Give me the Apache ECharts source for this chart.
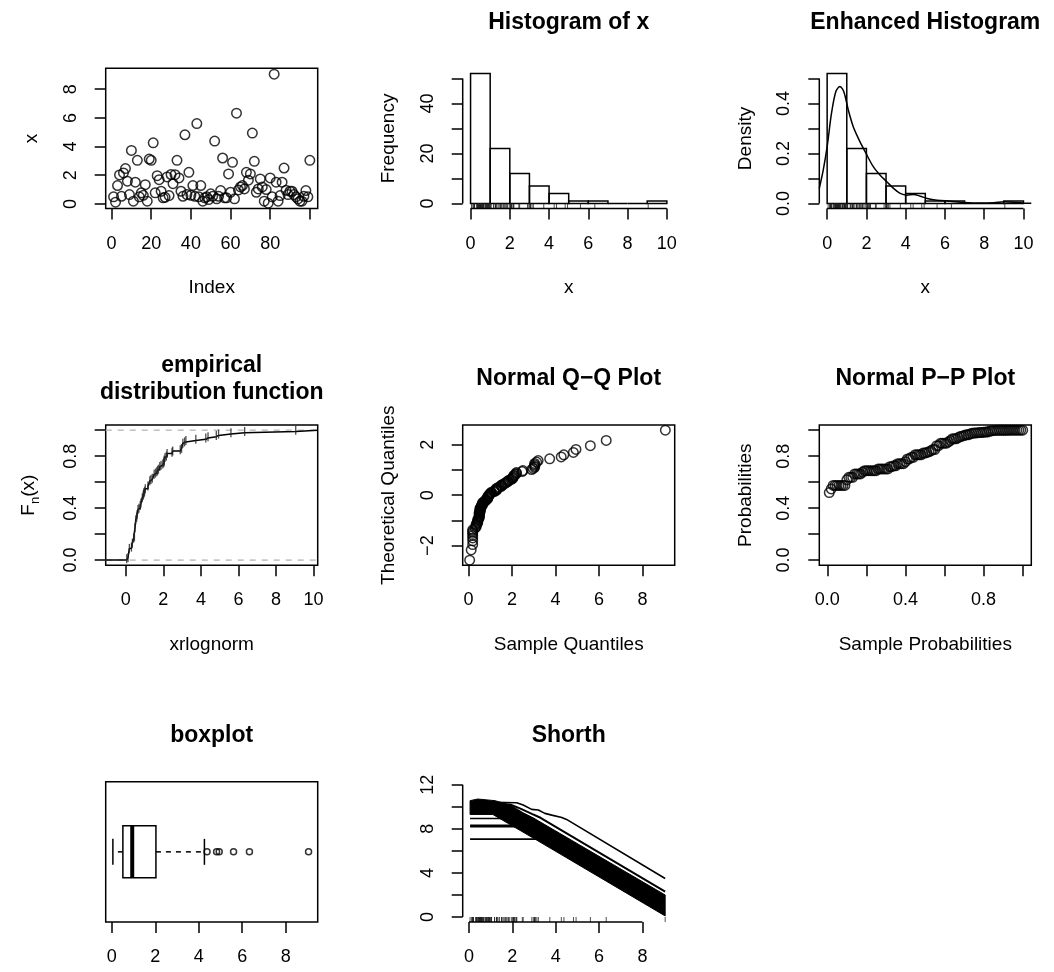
<!DOCTYPE html>
<html><head><meta charset="utf-8">
<script src="https://cdn.jsdelivr.net/npm/echarts@6/dist/echarts.min.js"></script>
<style>html,body{margin:0;padding:0;background:#fff}#c{width:1054px;height:972px}</style>
</head><body><div id="c"></div>
<script>
// ---------------- data ----------------
const indexValues = [
 0.49,0.12,1.28,2.02,0.53,2.16,2.46,1.58,0.65,3.73,
 0.19,1.51,3.04,0.49,0.77,0.60,1.34,0.19,3.13,3.04,
 4.26,0.77,1.97,1.69,0.88,0.42,0.46,1.88,0.58,2.05,
 1.41,2.04,3.04,1.81,0.88,0.53,4.82,0.65,2.20,0.60,
 1.28,0.53,5.60,0.49,1.28,0.19,0.42,0.49,0.30,0.70,
 0.53,4.38,0.35,0.53,0.93,3.20,0.42,0.42,2.09,0.81,
 2.90,0.35,6.33,0.97,1.18,1.28,1.04,2.20,1.65,2.09,
 4.94,2.97,0.81,1.04,1.74,1.18,0.19,1.00,0.05,1.81,
 0.49,9.05,1.51,0.19,0.58,1.51,2.50,0.95,0.65,0.88,
 0.88,0.65,0.49,0.35,0.19,0.19,0.53,0.93,0.49,3.04];
const histBreaks = [0,1,2,3,4,5,6,7,8,9,10];
const histCounts = [52,22,12,7,4,1,1,0,0,1];
const histDensities = [0.52,0.22,0.12,0.07,0.04,0.01,0.01,0,0,0.01];
const densityX = [-0.40,-0.20,0.00,0.22,0.44,0.65,0.85,1.08,1.33,1.67,1.98,2.35,2.70,3.04,3.38,3.72,4.06,4.40,4.74,5.09,5.60,6.28,6.96,7.80,8.50,9.00,9.50,10.00,10.40];
const densityY = [0.060,0.133,0.227,0.360,0.447,0.468,0.447,0.373,0.307,0.247,0.200,0.147,0.113,0.087,0.060,0.040,0.033,0.036,0.029,0.020,0.013,0.009,0.004,0.0015,0.003,0.007,0.005,0.001,0.0005];
const qqTheoretical = [
 -2.576,-2.170,-1.960,-1.812,-1.695,-1.598,-1.514,-1.440,-1.372,-1.311,
 -1.254,-1.200,-1.150,-1.103,-1.058,-1.015,-0.974,-0.935,-0.896,-0.860,
 -0.824,-0.789,-0.755,-0.722,-0.690,-0.659,-0.628,-0.598,-0.568,-0.539,
 -0.510,-0.482,-0.454,-0.426,-0.399,-0.372,-0.345,-0.319,-0.292,-0.266,
 -0.240,-0.215,-0.189,-0.164,-0.138,-0.113,-0.088,-0.063,-0.038,-0.013,
 0.013,0.038,0.063,0.088,0.113,0.138,0.164,0.189,0.215,0.240,
 0.266,0.292,0.319,0.345,0.372,0.399,0.426,0.454,0.482,0.510,
 0.539,0.568,0.598,0.628,0.659,0.690,0.722,0.755,0.789,0.824,
 0.860,0.896,0.935,0.974,1.015,1.058,1.103,1.150,1.200,1.254,
 1.311,1.372,1.440,1.514,1.598,1.695,1.812,1.960,2.170,2.576];
const ppProbabilities = [
 0.520,0.548,0.575,0.575,0.575,0.575,0.575,0.575,0.575,0.618,
 0.637,0.637,0.637,0.663,0.663,0.663,0.663,0.677,0.688,0.688,
 0.688,0.688,0.688,0.688,0.688,0.702,0.702,0.702,0.702,0.702,
 0.702,0.719,0.719,0.726,0.726,0.742,0.742,0.742,0.742,0.758,
 0.779,0.779,0.791,0.791,0.811,0.811,0.811,0.811,0.824,0.824,
 0.829,0.834,0.841,0.851,0.851,0.881,0.881,0.900,0.900,0.900,
 0.900,0.910,0.921,0.934,0.934,0.934,0.943,0.951,0.954,0.959,
 0.965,0.965,0.970,0.976,0.978,0.979,0.980,0.982,0.982,0.985,
 0.986,0.986,0.993,0.994,0.998,0.9985,0.9988,0.9988,0.9988,0.9988,
 0.9991,0.9993,0.9999,1,1,1,1,1,1,1];
const boxFive = [0.05,0.51,0.94,2.03,4.26];
const boxOutliers = [4.38,4.82,4.94,5.60,6.33,9.05];
const shorthTopX = [0.05,2.2,2.5,2.89,3.2,3.5,3.82,4.28,4.5,9.05];
const shorthTopY = [10.45,10.36,10.15,9.76,9.7,9.4,9.24,9.03,8.85,3.49];
const shorthSecondX = [0.05,1.9,2.4,2.9,3.3,9.05];
const shorthSecondY = [10.3,10.2,9.8,9.35,9.0,2.3];
const shorthBandUpperX = [0.05,0.4,1.2,1.9,2.5,3.0,9.05];
const shorthBandUpperY = [10.55,10.7,10.55,10.15,9.45,8.95,2.0];
const shorthBandLowerX = [9.05,3.1,1.1,0.05];
const shorthBandLowerY = [0.1,7.0,9.3,9.3];
const shorthFlatLevels = [7.06,8.2,8.32,8.94];
const shorthFlatEnds = [3.1,2.2,2.1,1.5];
// ticks / labels
const idxXTicks=[0,20,40,60,80,100], idxXLabels=[0,20,40,60,80], idxYTicks=[0,2,4,6,8];
const histXTicks=[0,2,4,6,8,10], histYTicks=[0,10,20,30,40,50], histYLabels=[0,20,40];
const densYTicks=[0,0.1,0.2,0.3,0.4,0.5], densYLabels=[0,0.2,0.4];
const unitTicks=[0,0.2,0.4,0.6,0.8,1], unitLabels=[0,0.4,0.8];
const qqXTicks=[0,2,4,6,8], qqYTicks=[-2,-1,0,1,2], qqYLabels=[-2,0,2];
const shorthYTicks=[0,2,4,6,8,10,12], shorthYLabels=[0,4,8,12];

// ---------------- layout ----------------
const FONT='"Liberation Sans", Arial, Helvetica, sans-serif';
const colLeft=[105.7,462.7,819.3], rowTop=[68.3,425,781.7], W=212, H=140.3;
const TICKF=18, LABF=19, TITF=23, LW=1.5;
const panels=[[0,0,true],[0,1,false],[0,2,false],[1,0,true],[1,1,true],[1,2,true],[2,0,true],[2,1,false]];
const grids=panels.map(p=>({left:colLeft[p[1]],top:rowTop[p[0]],width:W,height:H,show:p[2],borderColor:'#000',borderWidth:LW,backgroundColor:'transparent'}));
const ranges=[
 {x:[-2.96,103.96],y:[-0.33,9.46]},
 {x:[-0.4,10.4],y:[-2.08,54.08]},
 {x:[-0.4,10.4],y:[-0.0208,0.5408]},
 {x:[-1.07,10.22],y:[-0.04,1.04]},
 {x:[-0.27,9.48],y:[-2.78,2.78]},
 {x:[-0.041,1.044],y:[-0.04,1.04]},
 {x:[-0.28,9.47],y:[0.46,1.54]},
 {x:[-0.29,9.49],y:[-0.45,12.27]}];
const f1=v=>v.toFixed(1), fi=v=>String(Math.round(v)), fm=v=>v<0?'\u2212'+Math.abs(v):String(v);
function xAx(g,ticks,labels,fmt,name){return {type:'value',gridIndex:g,min:ranges[g].x[0],max:ranges[g].x[1],position:'bottom',
 axisLine:{show:false,onZero:false},splitLine:{show:false},
 axisTick:{show:true,inside:false,length:11,customValues:ticks,lineStyle:{color:'#000',width:LW}},
 axisLabel:{show:true,customValues:labels,margin:26,fontSize:TICKF,color:'#000',fontFamily:FONT,formatter:fmt},
 name:name||'',nameLocation:'middle',nameGap:70,nameTextStyle:{fontSize:LABF,color:'#000',fontFamily:FONT}};}
function yAx(g,ticks,labels,fmt,name,rich){return {type:'value',gridIndex:g,min:ranges[g].y[0],max:ranges[g].y[1],position:'left',
 show:ticks!==null,
 axisLine:{show:false,onZero:false},splitLine:{show:false},
 axisTick:{show:true,inside:false,length:11,customValues:ticks||[],lineStyle:{color:'#000',width:LW}},
 axisLabel:{show:true,customValues:labels||[],rotate:90,margin:26,fontSize:TICKF,color:'#000',fontFamily:FONT,formatter:fmt},
 name:name||'',nameLocation:'middle',nameGap:64,nameRotate:90,nameTextStyle:Object.assign({fontSize:LABF,color:'#000',fontFamily:FONT},rich?{rich:rich}:{})};}
const xAxes=[
 xAx(0,idxXTicks,idxXLabels,fi,'Index'),
 xAx(1,histXTicks,histXTicks,fi,'x'),
 xAx(2,histXTicks,histXTicks,fi,'x'),
 xAx(3,histXTicks,histXTicks,fi,'xrlognorm'),
 xAx(4,qqXTicks,qqXTicks,fi,'Sample Quantiles'),
 xAx(5,unitTicks,unitLabels,f1,'Sample Probabilities'),
 xAx(6,qqXTicks,qqXTicks,fi,''),
 xAx(7,qqXTicks,qqXTicks,fi,'')];
const yAxes=[
 yAx(0,idxYTicks,idxYTicks,fi,'x'),
 yAx(1,histYTicks,histYLabels,fi,'Frequency'),
 yAx(2,densYTicks,densYLabels,f1,'Density'),
 yAx(3,unitTicks,unitLabels,f1,'{a|F}{s|n}{a|(x)}',{a:{fontSize:LABF,fontFamily:FONT,color:'#000',lineHeight:26},s:{fontSize:13,fontFamily:FONT,color:'#000',lineHeight:26,verticalAlign:'bottom'}}),
 yAx(4,qqYTicks,qqYLabels,fm,'Theoretical Quantiles'),
 yAx(5,unitTicks,unitLabels,f1,'Probabilities'),
 yAx(6,null,null,fi,''),
 yAx(7,shorthYTicks,shorthYLabels,fi,'')];

// ---------------- helpers ----------------
function seg(g,pts,ls,z){return {type:'line',xAxisIndex:g,yAxisIndex:g,data:pts,symbol:'none',silent:true,clip:false,z:z||3,
 lineStyle:Object.assign({color:'#000',width:LW},ls||{})};}
function circles(g,pts,size){return {type:'scatter',xAxisIndex:g,yAxisIndex:g,data:pts,symbol:'circle',symbolSize:size||9.5,silent:true,z:4,
 itemStyle:{color:'rgba(0,0,0,0)',borderColor:'#000',borderWidth:LW}};}
function rug(g){const yb=ranges[g].y[0];return {type:'custom',xAxisIndex:g,yAxisIndex:g,data:indexValues.map(v=>[v,yb]),silent:true,z:2,
 renderItem:(p,api)=>{const c=api.coord([api.value(0),yb]);return {type:'line',shape:{x1:c[0],y1:c[1],x2:c[0],y2:c[1]-5},style:{stroke:'#222',lineWidth:0.8}};}};}
function bars(g,vals){return {type:'custom',xAxisIndex:g,yAxisIndex:g,silent:true,z:2,
 data:vals.map((v,i)=>[histBreaks[i],histBreaks[i+1],v]),
 renderItem:(p,api)=>{const a=api.coord([api.value(0),0]),b=api.coord([api.value(1),api.value(2)]);
  return {type:'rect',shape:{x:a[0],y:b[1],width:b[0]-a[0],height:a[1]-b[1]},style:{fill:'none',stroke:'#000',lineWidth:LW}};}};}

const sortedValues=indexValues.slice().sort((a,b)=>a-b);
const n=sortedValues.length;
const ecdfPts=[];
sortedValues.forEach((v,k)=>{if(k===n-1||sortedValues[k+1]!==v) ecdfPts.push([v,(k+1)/n]);});

const series=[];
// panel 0: index plot
series.push(circles(0,indexValues.map((v,i)=>[i+1,v])));
// panel 1: histogram
series.push(bars(1,histCounts), rug(1),
 seg(1,[[0,ranges[1].y[0]],[10,ranges[1].y[0]]]), seg(1,[[ranges[1].x[0],0],[ranges[1].x[0],50]]));
// panel 2: enhanced histogram
series.push(bars(2,histDensities), rug(2),
 {type:'line',xAxisIndex:2,yAxisIndex:2,data:densityX.map((x,i)=>[x,densityY[i]]),symbol:'none',smooth:0.3,silent:true,z:3,lineStyle:{color:'#000',width:LW}},
 seg(2,[[0,ranges[2].y[0]],[10,ranges[2].y[0]]]), seg(2,[[ranges[2].x[0],0],[ranges[2].x[0],0.5]]));
// panel 3: ecdf
series.push(seg(3,[[ranges[3].x[0],0],[ranges[3].x[1],0]],{color:'#bebebe',type:[6,6]},2),
 seg(3,[[ranges[3].x[0],1],[ranges[3].x[1],1]],{color:'#bebebe',type:[6,6]},2),
 {type:'line',xAxisIndex:3,yAxisIndex:3,step:'end',symbol:'none',silent:true,z:3,clip:true,
  data:[[ranges[3].x[0],0]].concat(ecdfPts,[[ranges[3].x[1],1]]),lineStyle:{color:'#000',width:LW}},
 {type:'scatter',xAxisIndex:3,yAxisIndex:3,data:ecdfPts,symbol:'rect',symbolSize:[1.3,9],silent:true,z:4,itemStyle:{color:'#222'}});
// panel 4: QQ
series.push(circles(4,sortedValues.map((v,k)=>[v,qqTheoretical[k]])));
// panel 5: PP
series.push(circles(5,ppProbabilities.map((p,k)=>[(k+1)/n,p])));
// panel 6: boxplot
series.push({type:'custom',xAxisIndex:6,yAxisIndex:6,data:[boxFive],silent:true,z:3,
 renderItem:(p,api)=>{const lo=api.value(0),q1=api.value(1),md=api.value(2),q3=api.value(3),hi=api.value(4);
  const c=(x,y)=>api.coord([x,y]);const st={stroke:'#000',lineWidth:LW,fill:'none'};
  const a=c(q1,0.8),b=c(q3,1.2);
  const L=(x1,y1,x2,y2,s)=>{const u=c(x1,y1),v=c(x2,y2);return {type:'line',shape:{x1:u[0],y1:u[1],x2:v[0],y2:v[1]},style:Object.assign({},st,s||{})};};
  return {type:'group',children:[
   L(q3,1,hi,1,{lineDash:[5,5]}), L(q1,1,lo,1,{lineDash:[5,5]}),
   L(hi,0.9,hi,1.1), L(lo,0.9,lo,1.1),
   {type:'rect',shape:{x:a[0],y:b[1],width:b[0]-a[0],height:a[1]-b[1]},style:{stroke:'#000',lineWidth:LW,fill:'#fff'}},
   L(md,0.8,md,1.2,{lineWidth:4})]};}});
series.push(circles(6,boxOutliers.map(v=>[v,1]),6));
// panel 7: shorth
series.push({type:'custom',xAxisIndex:7,yAxisIndex:7,data:[[0]],silent:true,z:2,
 renderItem:(p,api)=>{const pts=shorthBandUpperX.map((x,i)=>api.coord([x,shorthBandUpperY[i]])).concat(shorthBandLowerX.map((x,i)=>api.coord([x,shorthBandLowerY[i]])));
  return {type:'polygon',shape:{points:pts},style:{fill:'#000',stroke:'#000',lineWidth:1}};}});
series.push(seg(7,shorthTopX.map((x,i)=>[x,shorthTopY[i]]),{width:1.6}),
 seg(7,shorthSecondX.map((x,i)=>[x,shorthSecondY[i]]),{width:2}));
shorthFlatLevels.forEach((lv,i)=>series.push(seg(7,[[0.05,lv],[shorthFlatEnds[i],lv]],{width:1.6})));
series.push(rug(7), seg(7,[[0,ranges[7].y[0]],[8,ranges[7].y[0]]]), seg(7,[[ranges[7].x[0],0],[ranges[7].x[0],12]]));

// titles
const titles=[
 [0,1,'Histogram of x'],[0,2,'Enhanced Histogram'],[1,0,'empirical\ndistribution function'],
 [1,1,'Normal Q\u2212Q Plot'],[1,2,'Normal P\u2212P Plot'],[2,0,'boxplot'],[2,1,'Shorth']];
const graphic=titles.map(t=>({type:'text',x:colLeft[t[1]]+W/2,y:rowTop[t[0]]-46,silent:true,
 style:{text:t[2],fontSize:TITF,fontWeight:'bold',fontFamily:FONT,fill:'#000',align:'center',verticalAlign:'middle',textAlign:'center',textVerticalAlign:'middle',lineHeight:27}}));

const chart=echarts.init(document.getElementById('c'),null,{renderer:'canvas'});
chart.setOption({animation:false,backgroundColor:'#fff',grid:grids,xAxis:xAxes,yAxis:yAxes,series:series,graphic:graphic});
</script></body></html>
